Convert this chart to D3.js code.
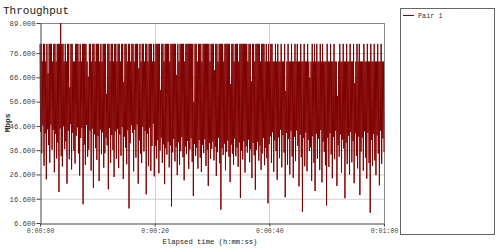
<!DOCTYPE html>
<html><head><meta charset="utf-8">
<script src="https://cdn.jsdelivr.net/npm/d3@7"></script>
<style>
html,body{margin:0;padding:0;background:#fff;}
svg{display:block;}
</style></head>
<body>
<svg id="c" width="500" height="248"></svg>
<script>
const title = "Throughput";
const yLabel = "Mbps";
const xLabel = "Elapsed time (h:mm:ss)";
const seriesName = "Pair 1";
const yTicks = [6.6, 16.6, 26.6, 36.6, 46.6, 56.6, 66.6, 76.6, 89.0];
const xTicks = [0, 20, 40, 60];
const durationSec = 60;
// high samples (alternating with low samples, 0.1 s apart)
const peaks = [
80.4,80.4,73.1,80.4,80.4,73.1,80.4,68.2,80.4,80.4,
80.4,73.1,80.4,80.4,73.1,80.4,80.4,80.4,89.0,80.4,
80.4,73.1,80.4,73.1,80.4,80.4,62.5,80.4,80.4,73.1,
73.1,80.4,80.4,80.4,73.1,80.4,73.1,80.4,80.4,80.4,
80.4,73.1,66.9,80.4,80.4,73.1,80.4,80.4,73.1,80.4,
80.4,80.4,73.1,80.4,73.1,80.4,80.4,80.4,59.8,80.4,
80.4,73.1,80.4,80.4,73.1,80.4,80.4,73.1,80.4,80.4,
73.1,80.4,80.4,64.7,80.4,80.4,73.1,80.4,80.4,73.1,
80.4,80.4,73.1,80.4,80.4,80.4,70.3,80.4,73.1,80.4,
80.4,73.1,80.4,80.4,73.1,80.4,80.4,80.4,73.1,80.4,
73.1,80.4,80.4,80.4,80.4,61.4,80.4,80.4,73.1,80.4,
80.4,80.4,80.4,73.1,80.4,80.4,80.4,80.4,80.4,67.6,
80.4,73.1,80.4,80.4,80.4,80.4,73.1,80.4,80.4,80.4,
80.4,80.4,80.4,80.4,56.3,80.4,80.4,73.1,80.4,80.4,
80.4,73.1,80.4,80.4,80.4,80.4,80.4,80.4,73.1,80.4,
80.4,80.4,69.5,80.4,80.4,73.1,80.4,80.4,80.4,80.4,
73.1,80.4,80.4,80.4,80.4,80.4,63.9,80.4,80.4,73.1,
80.4,80.4,80.4,73.1,80.4,80.4,80.4,80.4,80.4,80.4,
80.4,73.1,80.4,80.4,65.0,80.4,80.4,73.1,80.4,80.4,
80.4,80.4,73.1,80.4,80.4,80.4,73.1,80.4,73.1,80.4,
73.1,80.4,80.4,73.1,73.1,80.4,73.1,80.4,73.1,73.1,
80.4,73.1,73.1,80.4,61.0,73.1,80.4,73.1,73.1,80.4,
73.1,73.1,80.4,73.1,80.4,73.1,73.1,80.4,73.1,73.1,
80.4,73.1,73.1,80.4,73.1,66.4,73.1,80.4,73.1,80.4,
73.1,80.4,73.1,73.1,80.4,73.1,80.4,73.1,73.1,73.1,
80.4,73.1,73.1,80.4,73.1,73.1,80.4,73.1,73.1,58.9,
73.1,80.4,73.1,73.1,80.4,73.1,73.1,80.4,73.1,73.1,
80.4,73.1,73.1,80.4,64.2,73.1,80.4,73.1,80.4,73.1,
73.1,73.1,80.4,73.1,73.1,80.4,73.1,73.1,80.4,73.1,
73.1,80.4,73.1,73.1,80.4,73.1,73.1,80.4,73.1,73.1];
const troughs = [
44.1,35.3,46.8,30.2,43.5,24.6,45.2,38.7,31.4,47.1,
36.8,44.9,27.5,43.3,33.2,39.7,19.4,45.6,34.1,29.9,
46.5,37.0,40.2,22.8,44.6,32.9,47.3,28.7,43.8,36.4,
31.1,42.5,46.0,35.3,26.2,41.6,45.8,14.3,38.9,30.5,
47.0,33.9,36.8,44.7,28.2,45.5,21.1,43.2,37.4,32.6,
42.4,23.9,45.1,34.9,44.0,29.4,35.3,41.8,38.6,20.5,
45.9,31.4,42.8,36.7,25.6,44.4,33.0,45.3,29.2,43.1,
34.3,46.1,24.7,42.2,37.7,30.8,44.8,12.6,39.4,46.9,
43.7,27.9,45.0,33.5,47.2,22.8,40.6,35.2,31.3,46.3,
36.1,44.5,18.4,43.4,30.0,45.9,28.1,38.3,47.5,25.8,
38.4,33.2,40.7,27.1,36.5,41.8,31.4,39.0,22.6,37.3,
34.8,40.1,29.5,38.6,13.4,35.7,41.2,32.0,37.8,26.3,
39.9,30.6,36.2,42.0,33.7,24.2,38.1,35.0,40.4,28.9,
36.9,41.5,31.8,17.7,39.2,34.3,37.6,29.0,40.8,33.5,
27.6,38.7,35.4,41.1,30.1,36.8,21.9,39.5,33.0,37.1,
40.2,32.4,38.0,26.0,35.8,41.7,31.2,12.1,37.4,34.6,
39.3,28.3,36.0,40.6,33.9,23.5,38.9,35.1,30.7,41.4,
34.1,37.7,29.8,39.8,16.9,36.3,32.8,40.3,27.4,38.2,
35.6,41.0,31.6,37.0,25.1,39.6,34.5,20.3,36.7,40.0,
32.3,38.5,28.5,35.2,41.6,30.4,37.5,33.3,14.7,39.1,
42.3,31.4,44.0,27.7,40.6,36.2,24.4,41.9,33.3,45.0,
29.5,42.8,35.6,17.2,43.7,30.6,41.3,26.6,44.5,34.0,
25.2,42.1,32.1,44.8,38.4,21.7,43.0,33.7,11.2,41.6,
30.0,43.9,27.9,40.9,36.2,37.8,24.0,42.4,31.4,19.8,
43.4,33.1,41.4,28.4,44.9,23.3,40.1,35.9,30.4,13.8,
41.7,29.7,43.6,34.8,25.0,42.0,32.9,44.6,21.9,38.7,
33.9,43.1,27.4,41.0,37.3,16.8,39.7,30.9,42.6,26.6,
44.1,31.6,40.3,23.0,43.5,34.2,29.1,42.2,18.1,36.0,
41.8,28.2,44.4,33.5,24.9,43.8,31.3,10.8,40.8,30.2,
43.3,32.4,26.3,42.7,35.2,22.1,44.7,31.0,41.5,35.9];

const values = [];
peaks.forEach((p, i) => { values.push(p); values.push(troughs[i]); });
const step = durationSec / (values.length - 1);
const data = values.map((v, i) => ({t: i * step, v}));

const svg = d3.select("#c");
const m = {l: 40, r: 384, t: 23, b: 223};
const x = d3.scaleLinear().domain([0, durationSec]).range([m.l, m.r]);
const y = d3.scaleLinear().domain([6.6, 89]).range([m.b, m.t]);
const mono = "'Liberation Mono', 'DejaVu Sans Mono', monospace";
const fmtT = s => { const h = Math.floor(s/3600), mm = Math.floor((s%3600)/60), ss = Math.round(s%60);
  return h + ":" + String(mm).padStart(2,"0") + ":" + String(ss).padStart(2,"0"); };

// title
svg.append("text").attr("x", 3).attr("y", 14).attr("font-family", mono).attr("font-size", 11)
  .attr("fill", "#222").text(title);

// grid
svg.append("g").selectAll("line").data(yTicks.slice(1, -1)).join("line")
  .attr("x1", m.l).attr("x2", m.r).attr("y1", d => y(d) + 0.5).attr("y2", d => y(d) + 0.5)
  .attr("stroke", "#d0d0d0").attr("stroke-width", 1);
svg.append("g").selectAll("line").data(xTicks.slice(1, -1)).join("line")
  .attr("y1", m.t).attr("y2", m.b).attr("x1", d => Math.round(x(d)) + 0.5).attr("x2", d => Math.round(x(d)) + 0.5)
  .attr("stroke", "#d0d0d0").attr("stroke-width", 1);

// frame top/right
svg.append("line").attr("x1", m.l).attr("x2", m.r + 0.5).attr("y1", m.t + 0.5).attr("y2", m.t + 0.5).attr("stroke", "#888");
svg.append("line").attr("x1", m.r + 0.5).attr("x2", m.r + 0.5).attr("y1", m.t).attr("y2", m.b).attr("stroke", "#888");

// series
const line = d3.line().x(d => x(d.t)).y(d => y(d.v));
svg.append("path").datum(data).attr("d", line).attr("fill", "none")
  .attr("stroke", "#800000").attr("stroke-width", 1);

// axes
const yAxis = d3.axisLeft(y).tickValues(yTicks).tickFormat(d3.format(".3f")).tickSize(4).tickSizeOuter(0);
const gy = svg.append("g").attr("transform", `translate(${m.l + 0.5},0)`).call(yAxis);
gy.selectAll("text").attr("font-family", mono).attr("font-size", 7.2).attr("fill", "#444").attr("x", -5);
gy.select(".domain").attr("stroke", "#444");
gy.selectAll(".tick line").attr("stroke", "#444");

const xAxis = d3.axisBottom(x).tickValues(xTicks).tickFormat(fmtT).tickSize(3).tickSizeOuter(0);
const gx = svg.append("g").attr("transform", `translate(0,${m.b + 0.5})`).call(xAxis);
gx.selectAll("text").attr("font-family", mono).attr("font-size", 6.6).attr("fill", "#444").attr("dy", "0.5em");
gx.select(".domain").attr("stroke", "#444");
gx.selectAll(".tick line").attr("stroke", "#444");

// axis titles
svg.append("text").attr("x", (m.l + m.r) / 2 - 2).attr("y", 244).attr("text-anchor", "middle")
  .attr("font-family", mono).attr("font-size", 7.2).attr("fill", "#222").text(xLabel);
svg.append("text").attr("transform", `translate(10,${(m.t + m.b) / 2}) rotate(-90)`).attr("text-anchor", "middle")
  .attr("font-family", mono).attr("font-size", 8).attr("font-weight", "bold").attr("fill", "#333").text(yLabel);

// legend
svg.append("rect").attr("x", 400.5).attr("y", 8.5).attr("width", 94).attr("height", 226)
  .attr("fill", "#fff").attr("stroke", "#666");
svg.append("line").attr("x1", 403).attr("x2", 414).attr("y1", 15.5).attr("y2", 15.5).attr("stroke", "#800000");
svg.append("text").attr("x", 418).attr("y", 17.5).attr("font-family", mono).attr("font-size", 6.8)
  .attr("fill", "#333").text(seriesName);
</script>
</body></html>
